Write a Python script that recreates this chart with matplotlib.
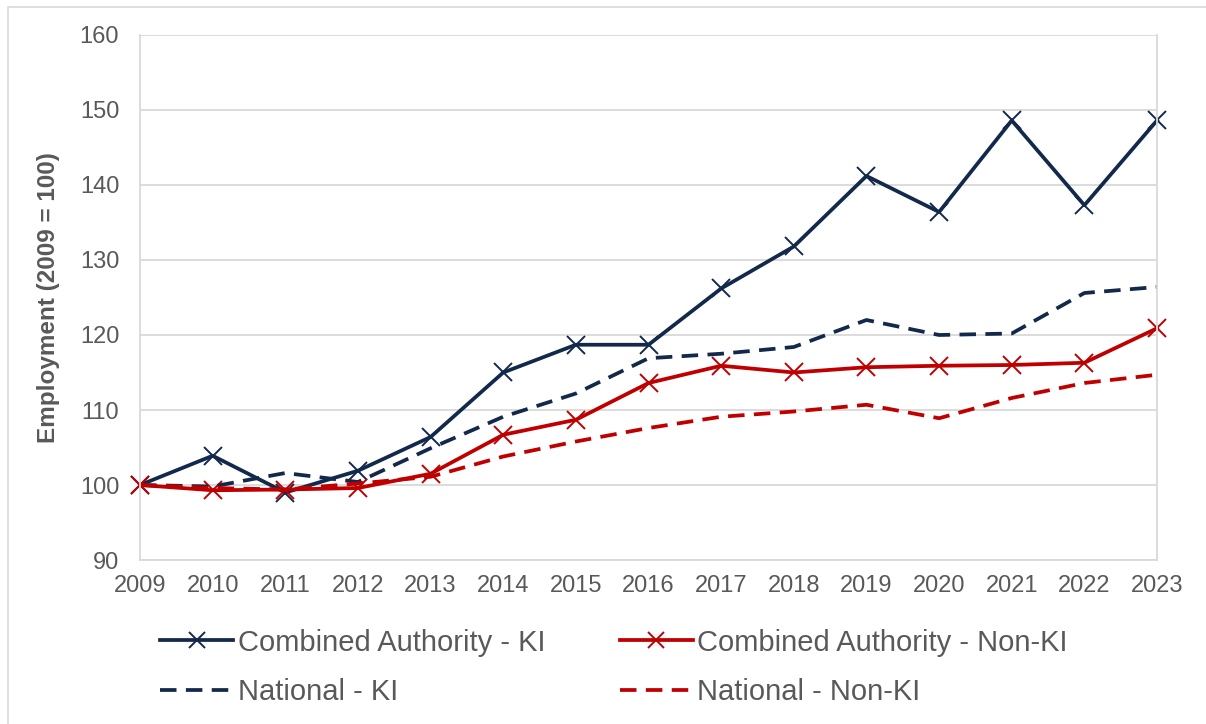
import matplotlib.pyplot as plt
from matplotlib.patches import Rectangle

# data
years = [2009, 2010, 2011, 2012, 2013, 2014, 2015, 2016, 2017, 2018, 2019, 2020, 2021, 2022, 2023]
ca_ki = [100, 103.9, 99.0, 101.9, 106.4, 115.0, 118.7, 118.7, 126.2, 131.8, 141.2, 136.4, 148.6, 137.3, 148.6]
ca_nonki = [100, 99.3, 99.4, 99.6, 101.5, 106.7, 108.7, 113.6, 115.9, 115.0, 115.7, 115.9, 116.0, 116.3, 120.9]
nat_ki = [100, 99.8, 101.6, 100.4, 104.9, 109.1, 112.2, 116.9, 117.5, 118.4, 122.0, 120.0, 120.2, 125.6, 126.4]
nat_nonki = [100, 99.6, 99.4, 100.2, 101.1, 103.8, 105.8, 107.6, 109.1, 109.8, 110.7, 108.9, 111.6, 113.6, 114.7]

navy = '#13294B'
red = '#C00000'
grey_text = '#595959'
grid_col = '#D9D9D9'

plt.rcParams['font.family'] = ['Liberation Sans', 'DejaVu Sans']

fig = plt.figure(figsize=(12.06, 7.24), dpi=100)
ax = fig.add_axes([0.1161, 0.2265, 0.8433, 0.7252])

l1, = ax.plot(years, ca_ki, color=navy, lw=2.7, marker='x', ms=13, mew=1.4,
              clip_on=False, label='Combined Authority - KI')
l2, = ax.plot(years, ca_nonki, color=red, lw=2.7, marker='x', ms=13, mew=1.4,
              clip_on=False, label='Combined Authority - Non-KI')
l3, = ax.plot(years, nat_ki, color=navy, lw=2.7, ls=(0, (4.4, 2.5)),
              label='National - KI')
l4, = ax.plot(years, nat_nonki, color=red, lw=2.7, ls=(0, (4.4, 2.5)),
              label='National - Non-KI')

ax.set_xlim(2009, 2023)
ax.set_ylim(90, 160)
ax.set_xticks(years)
ax.set_yticks(range(90, 161, 10))
ax.tick_params(length=0, labelsize=17, labelcolor=grey_text)
ax.tick_params(axis='y', pad=15)
ax.tick_params(axis='x', pad=11)
ax.grid(axis='y', color=grid_col, lw=1.3)
ax.set_axisbelow(True)
for side in ['left', 'right', 'bottom']:
    ax.spines[side].set_color(grid_col)
    ax.spines[side].set_linewidth(1.3)
ax.spines['top'].set_visible(False)

ax.set_ylabel('Employment (2009 = 100)', fontsize=17.5, fontweight='bold',
              color=grey_text)
ax.yaxis.set_label_coords(-0.0787, 0.5)

# row-wise legend order: CA-KI, CA-NonKI / Nat-KI, Nat-NonKI
leg = ax.legend([l1, l3, l2, l4],
                [l1.get_label(), l3.get_label(), l2.get_label(), l4.get_label()],
                loc='upper left', bbox_to_anchor=(-0.0057, -0.0805), ncol=2,
                frameon=False, fontsize=21, handlelength=2.5,
                handletextpad=0.15, columnspacing=2.55, labelspacing=0.74)
for t in leg.get_texts():
    t.set_color(grey_text)
for h in leg.legend_handles:
    h.set_markersize(11)

# outer chart border (only top and left edges fall inside the image)
fig.patches.append(Rectangle((8 / 1206, -0.1), 1.2, (724 - 7) / 724 + 0.1,
                             transform=fig.transFigure, fill=False,
                             edgecolor=grid_col, lw=1.2))

plt.savefig('out.png', dpi=100)
